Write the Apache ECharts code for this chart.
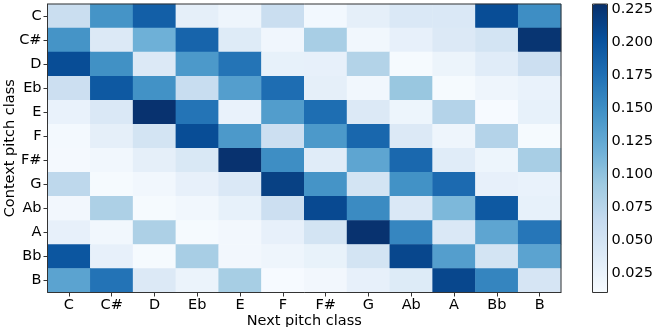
<!DOCTYPE html>
<html>
<head>
<meta charset="utf-8">
<script src="https://cdn.jsdelivr.net/npm/echarts@6/dist/echarts.min.js"></script>
<style>
html,body{margin:0;padding:0;background:#fff;}
#chart{width:656px;height:327px;}
</style>
</head>
<body>
<div id="chart"></div>
<script>
// Categories (both axes)
const pitches = ['C','C#','D','Eb','E','F','F#','G','Ab','A','Bb','B'];
// Rows: context pitch class; columns: next pitch class (C..B)
const rowC  = [0.060,0.145,0.190,0.030,0.020,0.060,0.015,0.030,0.042,0.042,0.205,0.150];
const rowCs = [0.145,0.040,0.118,0.185,0.037,0.018,0.085,0.017,0.028,0.040,0.050,0.225];
const rowD  = [0.205,0.148,0.040,0.140,0.172,0.027,0.028,0.078,0.012,0.022,0.035,0.058];
const rowEb = [0.058,0.195,0.147,0.062,0.135,0.178,0.030,0.017,0.095,0.012,0.020,0.025];
const rowE  = [0.025,0.042,0.227,0.172,0.025,0.136,0.177,0.040,0.021,0.077,0.011,0.027];
const rowF  = [0.014,0.030,0.050,0.205,0.140,0.058,0.140,0.183,0.040,0.020,0.077,0.012];
const rowFs = [0.013,0.017,0.030,0.043,0.227,0.150,0.035,0.128,0.182,0.035,0.021,0.085];
const rowG  = [0.070,0.012,0.017,0.028,0.042,0.215,0.145,0.050,0.147,0.180,0.028,0.025];
const rowAb = [0.016,0.082,0.012,0.017,0.027,0.058,0.208,0.153,0.042,0.110,0.195,0.027];
const rowA  = [0.028,0.017,0.082,0.012,0.016,0.028,0.050,0.227,0.157,0.042,0.128,0.170];
const rowBb = [0.197,0.028,0.012,0.085,0.016,0.020,0.026,0.050,0.210,0.135,0.050,0.130];
const rowB  = [0.130,0.173,0.040,0.023,0.086,0.011,0.016,0.028,0.038,0.210,0.158,0.047];
// Colorbar
const cbMin = 0.010;
const cbMax = 0.229;
const cbTicks = [0.025,0.050,0.075,0.100,0.125,0.150,0.175,0.200,0.225];

const rows = [rowC,rowCs,rowD,rowEb,rowE,rowF,rowFs,rowG,rowAb,rowA,rowBb,rowB];
const heatData = [];
rows.forEach((r, yi) => r.forEach((v, xi) => heatData.push([xi, yi, v])));

const blues = ['#f7fbff','#deebf7','#c6dbef','#9ecae1','#6baed6','#4292c6','#2171b5','#08519c','#08306b'];
const FONT = 'DejaVu Sans';
const AX = '#333';
const FS = 14.5;

const chart = echarts.init(document.getElementById('chart'), null, {renderer:'canvas'});
chart.setOption({
  animation: false,
  backgroundColor: '#fff',
  textStyle: {fontFamily: FONT},
  grid: [
    {left: 47.5, top: 4, width: 513.5, height: 288.5, show: true, borderColor: AX, borderWidth: 1,
     backgroundColor: 'transparent', z: 5, containLabel: false, outerBoundsMode: 'none'},
    {left: 592.5, top: 4, width: 15, height: 288.5, show: true, borderColor: AX, borderWidth: 1,
     backgroundColor: 'transparent', z: 10, containLabel: false, outerBoundsMode: 'none'}
  ],
  xAxis: [
    {
      type: 'category', gridIndex: 0, data: pitches,
      axisLine: {show: true, lineStyle: {color: AX}},
      axisTick: {show: true, alignWithLabel: true, length: 4, lineStyle: {color: AX}},
      axisLabel: {fontSize: FS, color: '#000', margin: 5, fontFamily: FONT},
      splitLine: {show: false},
      name: 'Next pitch class', nameLocation: 'middle', nameGap: 21.5, nameMoveOverlap: false,
      nameTextStyle: {fontSize: FS, color: '#000', fontFamily: FONT}
    },
    {type: 'value', gridIndex: 1, show: false, min: 0, max: 1}
  ],
  yAxis: [
    {
      type: 'category', gridIndex: 0, data: pitches, inverse: true,
      axisLine: {show: true, lineStyle: {color: AX}},
      axisTick: {show: true, alignWithLabel: true, length: 4, lineStyle: {color: AX}},
      axisLabel: {fontSize: FS, color: '#000', margin: 6, fontFamily: FONT},
      splitLine: {show: false},
      name: 'Context pitch class', nameLocation: 'middle', nameGap: 30, nameRotate: 90, nameMoveOverlap: false,
      nameTextStyle: {fontSize: FS, color: '#000', fontFamily: FONT}
    },
    {
      type: 'value', gridIndex: 1, position: 'right', min: cbMin, max: cbMax,
      axisLine: {show: false},
      axisTick: {show: true, customValues: cbTicks, length: 4, lineStyle: {color: AX}},
      axisLabel: {show: true, customValues: cbTicks, fontSize: FS, color: '#000', margin: 4, fontFamily: FONT,
                  formatter: v => v.toFixed(3)},
      splitLine: {show: false}
    }
  ],
  visualMap: {
    type: 'continuous', seriesIndex: 0, min: cbMin, max: cbMax,
    calculable: false, hoverLink: false, orient: 'vertical',
    left: 592.5, top: 4, itemWidth: 15, itemHeight: 288.5, padding: 0,
    inRange: {color: blues}
  },
  series: [{
    type: 'heatmap', xAxisIndex: 0, yAxisIndex: 0, data: heatData,
    itemStyle: {borderWidth: 0},
    emphasis: {disabled: true}
  }]
});
</script>
</body>
</html>
